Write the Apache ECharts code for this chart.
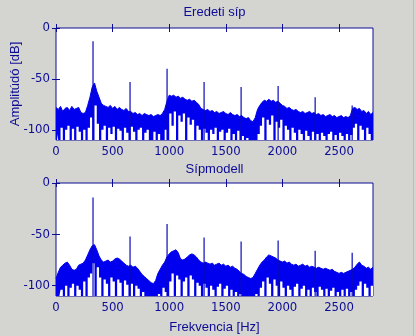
<!DOCTYPE html>
<html><head><meta charset="utf-8">
<script src="https://cdn.jsdelivr.net/npm/echarts@6/dist/echarts.min.js"></script>
<style>html,body{margin:0;padding:0;background:#d4d4d0;}#c{width:416px;height:336px;}</style>
</head><body><div id="c"></div>
<script>
// frequency grid step (Hz)
const step = 20;
// harmonic frequencies (Hz)
const harmFreq = [327, 654, 981, 1308, 1635, 1962, 2289, 2616];
// harmonic peak levels (dB)
const harmTop = [-13, -53, -40, -53, -58, -57, -68, -76];
const harmBot = [-14, -52, -40, -53, -57, -56, -66, -68];
// "Eredeti síp": upper edge of the noise band (dB), every 20 Hz from 0 to 2800
const origUpper = [-78,-80,-77,-82,-79,-78,-81,-77,-80,-79,-78,-83,-84,-83,-76,-68,-58,-54,-62,-68,
-74,-76,-77,-78,-76,-79,-77,-80,-78,-80,-81,-79,-82,-82,-84,-83,-85,-84,-86,-84,
-85,-86,-85,-87,-86,-85,-86,-84,-80,-72,-66,-67,-66,-68,-67,-69,-68,-70,-71,-70,
-72,-71,-73,-75,-79,-80,-81,-80,-82,-81,-83,-82,-84,-83,-82,-84,-85,-83,-85,-86,
-85,-87,-86,-88,-89,-88,-91,-92,-88,-80,-76,-73,-71,-72,-70,-72,-71,-73,-72,-74,
-76,-77,-79,-78,-80,-81,-80,-82,-83,-82,-84,-83,-82,-84,-83,-85,-84,-86,-85,-87,
-86,-85,-87,-86,-88,-87,-86,-88,-87,-88,-86,-79,-78,-80,-79,-82,-81,-84,-82,-85,-83];
// "Eredeti síp": lower edge of the solid band (dB); -110 marks a dip reaching the bottom
const origLower = [-104,-110,-98,-110,-100,-96,-110,-99,-110,-97,-102,-110,-100,-110,-98,-88,-110,-76,-94,-110,
-100,-96,-110,-98,-104,-97,-110,-99,-101,-110,-98,-103,-110,-97,-102,-110,-100,-98,-110,-103,
-100,-110,-110,-102,-110,-104,-110,-110,-100,-110,-84,-96,-82,-110,-86,-92,-84,-110,-88,-95,
-90,-110,-96,-100,-110,-99,-103,-110,-100,-104,-98,-110,-102,-100,-110,-103,-99,-110,-104,-110,
-101,-110,-106,-110,-108,-110,-110,-110,-110,-104,-96,-88,-110,-90,-95,-86,-110,-92,-98,-90,
-110,-96,-100,-110,-98,-103,-110,-100,-104,-110,-101,-106,-110,-102,-110,-104,-110,-103,-106,-110,
-104,-102,-110,-105,-110,-103,-106,-110,-104,-110,-105,-98,-94,-110,-96,-100,-110,-98,-104,-110,-100];
// "Sípmodell": upper edge of the noise band (dB)
const modelUpper = [-93,-87,-82,-80,-78,-77,-80,-84,-85,-84,-80,-79,-78,-75,-70,-65,-61,-60,-65,-71,
-75,-77,-76,-75,-77,-76,-74,-73,-74,-76,-78,-80,-81,-80,-82,-81,-83,-86,-89,-91,
-93,-95,-97,-98,-95,-88,-84,-80,-77,-72,-69,-67,-66,-65,-68,-74,-75,-74,-72,-70,
-69,-70,-72,-75,-77,-78,-77,-78,-79,-78,-80,-79,-78,-80,-79,-81,-80,-82,-81,-83,
-84,-86,-88,-89,-91,-92,-93,-92,-88,-84,-80,-77,-75,-72,-70,-71,-72,-73,-75,-76,
-77,-76,-78,-77,-79,-80,-79,-81,-80,-79,-81,-80,-82,-81,-82,-83,-82,-83,-84,-83,
-84,-85,-84,-86,-87,-88,-87,-88,-87,-86,-85,-84,-82,-79,-77,-80,-81,-83,-82,-84,-82];
// "Sípmodell": lower edge of the solid band (dB); -110 marks a dip reaching the bottom
const modelLower = [-110,-110,-104,-110,-100,-110,-102,-98,-110,-100,-104,-110,-96,-110,-92,-88,-78,-110,-82,-92,
-110,-94,-98,-110,-92,-96,-110,-94,-97,-110,-95,-99,-110,-98,-110,-100,-103,-110,-106,-110,
-110,-110,-110,-110,-110,-108,-110,-102,-106,-110,-96,-88,-110,-90,-94,-110,-96,-92,-110,-90,
-94,-110,-97,-100,-110,-98,-102,-110,-100,-104,-110,-101,-98,-110,-103,-100,-110,-104,-110,-106,
-110,-108,-110,-110,-110,-110,-110,-110,-108,-110,-102,-96,-110,-92,-98,-110,-94,-100,-110,-96,
-102,-110,-100,-104,-110,-101,-98,-110,-103,-100,-110,-104,-110,-102,-106,-110,-101,-104,-110,-103,
-110,-105,-102,-110,-106,-110,-104,-110,-103,-110,-106,-110,-104,-100,-96,-110,-98,-102,-110,-100,-104];
const xTicks = [0, 500, 1000, 1500, 2000, 2500];
const yTicks = [0, -50, -100];

function pts(arr, offset) {
  const d = [];
  for (let i = 0; i < arr.length; i++) d.push([i * step + offset, arr[i]]);
  return d;
}
function spikes(f, top) {
  const d = [];
  for (let i = 0; i < f.length; i++) {
    d.push([f[i], -110]); d.push([f[i], top[i]]); d.push([f[i], '-']);
  }
  return d;
}

const NAVY = '#0c0c96';
const BLUE = '#0000ee';
const FONT = 'Liberation Sans Narrow, DejaVu Sans Condensed, Liberation Sans, sans-serif';
function xAx(grid, pos, name, nameGap) {
  return {
    type: 'value', gridIndex: grid, position: pos, min: 0, max: 2800,
    axisLine: { show: false },
    axisTick: { show: true, inside: true, length: 4, customValues: xTicks, lineStyle: { color: NAVY } },
    axisLabel: { show: pos === 'bottom', customValues: xTicks, color: NAVY, fontSize: 13, fontFamily: FONT, margin: 5,
      formatter: function (v) { return String(v); } },
    splitLine: { show: false },
    name: name, nameLocation: 'middle', nameGap: nameGap, nameMoveOverlap: false,
    nameTextStyle: { color: NAVY, fontSize: 13, fontFamily: 'Liberation Sans, sans-serif' }
  };
}
function yAx(grid, pos, name) {
  return {
    type: 'value', gridIndex: grid, position: pos, min: -110, max: 0,
    axisLine: { show: false },
    axisTick: { show: true, inside: true, length: 4, customValues: yTicks, lineStyle: { color: NAVY } },
    axisLabel: { show: pos === 'left', customValues: yTicks, color: NAVY, fontSize: 13, fontFamily: FONT, margin: 6,
      formatter: function (v) { return String(v); } },
    splitLine: { show: false },
    name: name, nameLocation: 'middle', nameGap: 34, nameRotate: 90, nameMoveOverlap: false,
    nameTextStyle: { color: NAVY, fontSize: 13, fontFamily: 'Liberation Sans, sans-serif' }
  };
}
function bandArea(x, y, data) {
  return { type: 'line', xAxisIndex: x, yAxisIndex: y, data: data, symbol: 'none', showSymbol: false,
    lineStyle: { width: 1, color: BLUE }, areaStyle: { color: BLUE, opacity: 1, origin: 'start' },
    silent: true, clip: true };
}
function gapArea(x, y, data) {
  return { type: 'line', xAxisIndex: x, yAxisIndex: y, data: data, symbol: 'none', showSymbol: false, step: 'middle',
    lineStyle: { width: 0, color: '#ffffff' }, areaStyle: { color: '#ffffff', opacity: 1, origin: 'start' },
    silent: true, clip: true };
}
function spikeLine(x, y, data) {
  return { type: 'line', xAxisIndex: x, yAxisIndex: y, data: data, symbol: 'none', showSymbol: false,
    lineStyle: { width: 1.2, color: '#0a0ab8' }, connectNulls: false, silent: true, clip: true };
}

const chart = echarts.init(document.getElementById('c'), null, { renderer: 'canvas' });
chart.setOption({
  backgroundColor: '#d4d4d0',
  animation: false,
  grid: [
    { left: 56, top: 28, width: 317, height: 112, show: true, backgroundColor: '#ffffff', borderColor: NAVY, borderWidth: 1, outerBoundsMode: 'none', containLabel: false },
    { left: 56, top: 183, width: 317, height: 113, show: true, backgroundColor: '#ffffff', borderColor: NAVY, borderWidth: 1, outerBoundsMode: 'none', containLabel: false }
  ],
  xAxis: [
    xAx(0, 'bottom', '', 0),
    xAx(0, 'top', 'Eredeti síp', 9),
    xAx(1, 'bottom', 'Frekvencia [Hz]', 25),
    xAx(1, 'top', 'Sípmodell', 7)
  ],
  yAxis: [
    yAx(0, 'left', 'Amplitúdó [dB]'),
    yAx(0, 'right', ''),
    yAx(1, 'left', ''),
    yAx(1, 'right', '')
  ],
  series: [
    bandArea(0, 0, pts(origUpper, 0)),
    gapArea(0, 0, pts(origLower, step / 2)),
    spikeLine(0, 0, spikes(harmFreq, harmTop)),
    bandArea(2, 2, pts(modelUpper, 0)),
    gapArea(2, 2, pts(modelLower, step / 2)),
    spikeLine(2, 2, spikes(harmFreq, harmBot))
  ],
  graphic: [
    { type: 'rect', shape: { x: 413, y: 0, width: 1, height: 336 }, style: { fill: '#c8b8b8' }, silent: true }
  ]
});
</script></body></html>
